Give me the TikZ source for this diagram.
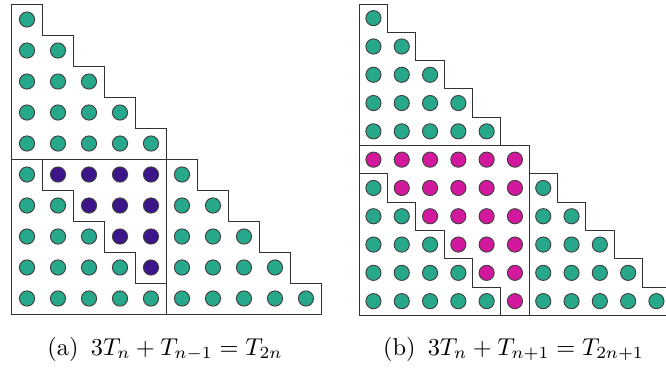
\documentclass[tikz,border=0pt]{standalone}
\definecolor{dgreen}{HTML}{27A88B}
\definecolor{dpurple}{HTML}{3B1589}
\definecolor{dmag}{HTML}{D2199D}
\tikzset{
  dotstyle/.style={draw=black!75, line width=0.4pt},
  outline/.style={draw=black!80, line width=0.4pt},
  captext/.style={font=\normalsize, anchor=base, inner sep=0pt, scale=1.06, transform shape}
}
\begin{document}
\begin{tikzpicture}[x=0.4348pt,y=-0.4348pt]
\useasboundingbox (0,0) rectangle (666,367);
\fill[white] (0,0) rectangle (666,367);
% ---------- left panel ----------
\begin{scope}[shift={(11.5,4)}, x=13.478pt, y=-13.478pt]
  \foreach \i in {1,...,10}{
    \foreach \j in {1,...,\i}{
      \def\col{dgreen}
      \ifnum\i>5 \ifnum\j<6 \ifnum\j>\numexpr\i-5\relax \def\col{dpurple}\fi\fi\fi
      \filldraw[dotstyle, fill=\col] (\j-0.5,\i-0.5) circle[radius=3.3pt];
    }
  }
  \draw[outline] (0,0) foreach \k in {1,...,10}{ -- (\k,\k-1) -- (\k,\k) } -- (0,10) -- cycle;
  \draw[outline] (0,5) -- (5,5) -- (5,10);
  \draw[outline] (1,5) -- (1,6) -- (2,6) -- (2,7) -- (3,7) -- (3,8) -- (4,8) -- (4,9) -- (5,9);
\end{scope}
% ---------- right panel ----------
\begin{scope}[shift={(359.3,4)}, x=12.304pt, y=-12.304pt]
  \foreach \i in {1,...,11}{
    \foreach \j in {1,...,\i}{
      \def\col{dgreen}
      \ifnum\i>5 \ifnum\j<7 \ifnum\j>\numexpr\i-6\relax \def\col{dmag}\fi\fi\fi
      \filldraw[dotstyle, fill=\col] (\j-0.5,\i-0.5) circle[radius=3.3pt];
    }
  }
  \draw[outline] (0,0) foreach \k in {1,...,11}{ -- (\k,\k-1) -- (\k,\k) } -- (0,11) -- cycle;
  \draw[outline] (0,5) -- (5,5);
  \draw[outline] (6,6) -- (6,11);
  \draw[outline] (0,6) -- (1,6) -- (1,7) -- (2,7) -- (2,8) -- (3,8) -- (3,9) -- (4,9) -- (4,10) -- (5,10) -- (5,11);
\end{scope}
% ---------- captions ----------
\node[captext] (capa) at (165,355) {(a)\hspace{0.5em}$3T_n+T_{n-1}=T_{2n}$};
\node[captext] (capb) at (513.5,355) {(b)\hspace{0.5em}$3T_n+T_{n+1}=T_{2n+1}$};
\end{tikzpicture}
\end{document}
